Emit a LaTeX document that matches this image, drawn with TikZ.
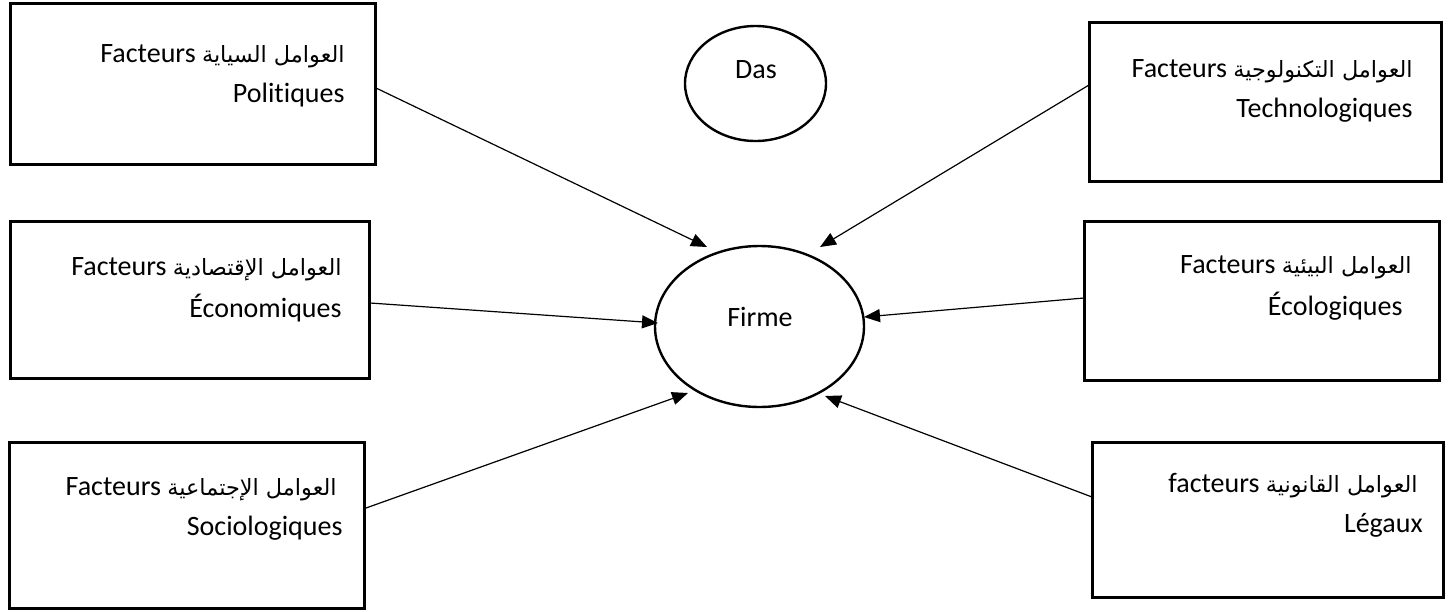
\documentclass[tikz,border=0pt]{standalone}
\usepackage{fontspec}
\setmainfont{Carlito}[Ligatures=CommonOff]
\newfontfamily\arabicfont[Script=Arabic,Scale=0.8]{DejaVu Sans}
\TeXXeTstate=1
\usetikzlibrary{arrows.meta,shapes.geometric}

% Arabic run set right to left
\newcommand{\ar}[1]{{\arabicfont\beginR #1\endR}}

\begin{document}
\begin{tikzpicture}[x=0.5pt,y=-0.5pt,
  factorbox/.style={draw,line width=1.5pt,inner sep=0pt,rectangle},
  hub/.style={draw,ellipse,line width=1.2pt,inner sep=0pt},
  txt/.style={inner sep=0pt,anchor=base east,font=\fontsize{14pt}{16pt}\selectfont},
  ctxt/.style={inner sep=0pt,anchor=base,font=\fontsize{14pt}{16pt}\selectfont},
  influence/.style={line width=0.6pt,-{Triangle[length=8pt,width=6.5pt]}}]
\useasboundingbox (0,0) rectangle (1450,611);

% the six environment boxes
\node[factorbox,minimum width=182.5pt,minimum height=80.5pt] (pol) at (192.5,83.5) {};
\node[factorbox,minimum width=176pt,minimum height=79.5pt] (tech) at (1265,101.5) {};
\node[factorbox,minimum width=179.5pt,minimum height=78.5pt] (eco) at (189.5,299.5) {};
\node[factorbox,minimum width=177.5pt,minimum height=79.5pt] (ecol) at (1261.5,300.5) {};
\node[factorbox,minimum width=177.5pt,minimum height=83pt] (soc) at (186.5,525) {};
\node[factorbox,minimum width=175.5pt,minimum height=77.5pt] (leg) at (1267.5,519.5) {};

% box labels
\node[txt] (pol1) at (345,62) {Facteurs \ar{العوامل السياية}};
\node[txt] (pol2) at (345,102) {Politiques};
\node[txt] (tech1) at (1413,77) {Facteurs \ar{العوامل التكنولوجية}};
\node[txt] (tech2) at (1413,117) {Technologiques};
\node[txt] (eco1) at (342,275) {Facteurs \ar{العوامل الإقتصادية}};
\node[txt] (eco2) at (342,317) {Économiques};
\node[txt] (ecol1) at (1412,273) {Facteurs \ar{العوامل البيئية}};
\node[txt] (ecol2) at (1403,315) {Écologiques};
\node[txt] (soc1) at (337,495) {Facteurs \ar{العوامل الإجتماعية}};
\node[txt] (soc2) at (343,535) {Sociologiques};
\node[txt] (leg1) at (1418,492) {facteurs \ar{العوامل القانونية}};
\node[txt] (leg2) at (1423,532) {Légaux};

% the two ellipses
\node[hub,minimum width=70.5pt,minimum height=57.5pt] (das) at (755.5,83.5) {};
\node[ctxt] (daslbl) at (756,78) {Das};
\node[hub,minimum width=104.5pt,minimum height=80.5pt] (firme) at (759.5,326.5) {};
\node[ctxt] (firmelbl) at (760,326) {Firme};

% connector ends
\coordinate (s1) at (376,88);   \coordinate (t1) at (707,247);
\coordinate (s2) at (1089,85);  \coordinate (t2) at (820,247);
\coordinate (s3) at (370,303);  \coordinate (t3) at (658,323);
\coordinate (s4) at (1084,298); \coordinate (t4) at (864,317);
\coordinate (s5) at (366,508);  \coordinate (t5) at (688,393);
\coordinate (s6) at (1092,497); \coordinate (t6) at (825,396);

\draw[influence] (s1) -- (t1);
\draw[influence] (s2) -- (t2);
\draw[influence] (s3) -- (t3);
\draw[influence] (s4) -- (t4);
\draw[influence] (s5) -- (t5);
\draw[influence] (s6) -- (t6);
\end{tikzpicture}
\end{document}
